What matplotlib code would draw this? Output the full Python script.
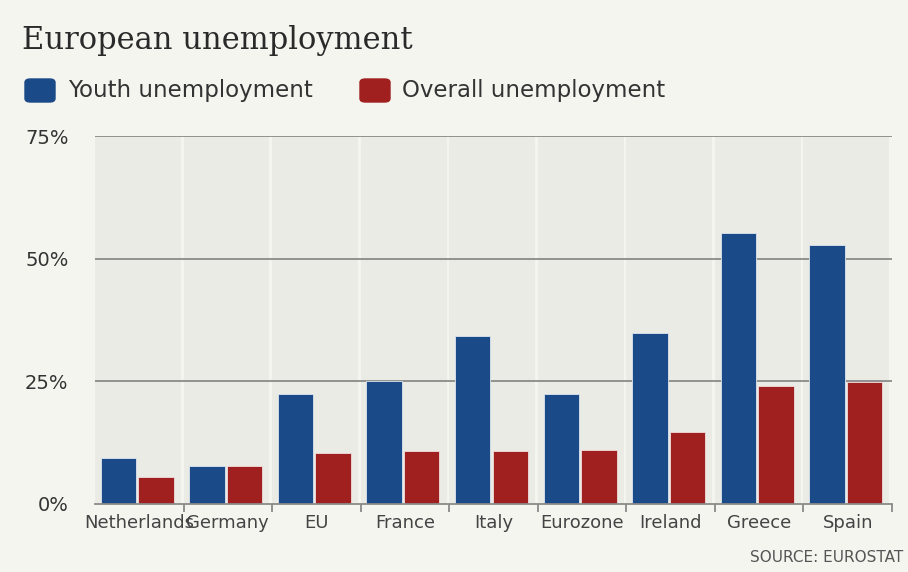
import numpy as np
import matplotlib
matplotlib.use('Agg')
import matplotlib.pyplot as plt
from matplotlib.patches import FancyBboxPatch

# data (percent)
countries = ['Netherlands', 'Germany', 'EU', 'France', 'Italy',
             'Eurozone', 'Ireland', 'Greece', 'Spain']
youth = [9.4, 7.8, 22.5, 25.0, 34.3, 22.5, 34.8, 55.2, 52.7]
overall = [5.4, 7.8, 10.3, 10.7, 10.7, 11.1, 14.7, 24.1, 24.9]
yticks = [0, 25, 50, 75]
ytick_labels = ['0%', '25%', '50%', '75%']

bg = '#f5f5f0'
panel = '#ebebe6'
blue = '#1a4a88'
red = '#a01f1f'

fig = plt.figure(figsize=(9.08, 5.72), dpi=100, facecolor=bg)
ax = fig.add_axes([0.1046, 0.1189, 0.8778, 0.6433])
ax.set_facecolor(bg)

x = np.arange(len(countries))
# gray panels behind each group
for i in x:
    ax.axvspan(i - 0.5, i + 0.47, color=panel, zorder=0, lw=0)

for y in yticks[1:]:
    ax.axhline(y, color='#8a8a8a', lw=1.3, zorder=1)

w = 0.40
ax.bar(x - 0.235, youth, w, color=blue, edgecolor='#dfe6f0', linewidth=0.6, zorder=2)
ax.bar(x + 0.19, overall, w, color=red, edgecolor='#f0dede', linewidth=0.6, zorder=2)

ax.set_xlim(-0.5, len(countries) - 0.5)
ax.set_ylim(0, 75)

for s in ['top', 'right', 'left']:
    ax.spines[s].set_visible(False)
ax.spines['bottom'].set_color('#8a8a8a')
ax.spines['bottom'].set_linewidth(1.3)
ax.spines['bottom'].set_zorder(3)

ax.set_yticks(yticks)
ax.set_yticklabels(ytick_labels, fontsize=14, color='#333333')
ax.tick_params(axis='y', length=0, pad=19)

ax.set_xticks(x)
ax.set_xticklabels(countries, fontsize=13, color='#444444')
ax.tick_params(axis='x', length=0, pad=7)
ax.set_xticks(np.arange(0.5, len(countries), 1.0), minor=True)
ax.tick_params(axis='x', which='minor', length=6, width=1.3, color='#8a8a8a')

fig.text(22 / 908, 1 - 49 / 572, 'European unemployment', family='DejaVu Serif',
         fontsize=22, color='#2a2a2a', va='baseline')

# legend
def legend_box(x0, color):
    fig.patches.append(FancyBboxPatch((x0 / 908, 1 - 102 / 572), 30 / 908, 23 / 572,
                                      boxstyle='round,pad=0,rounding_size=0.006',
                                      transform=fig.transFigure, color=color))

legend_box(25, blue)
fig.text(68 / 908, 1 - 91 / 572, 'Youth unemployment', fontsize=16.5,
         color='#333333', va='center')
legend_box(360, red)
fig.text(402 / 908, 1 - 91 / 572, 'Overall unemployment', fontsize=16.5,
         color='#333333', va='center')

fig.text(0.995, 1 - 557 / 572, 'SOURCE: EUROSTAT', fontsize=11,
         color='#555555', ha='right', va='center')

fig.savefig('out.png', dpi=100, facecolor=bg)
